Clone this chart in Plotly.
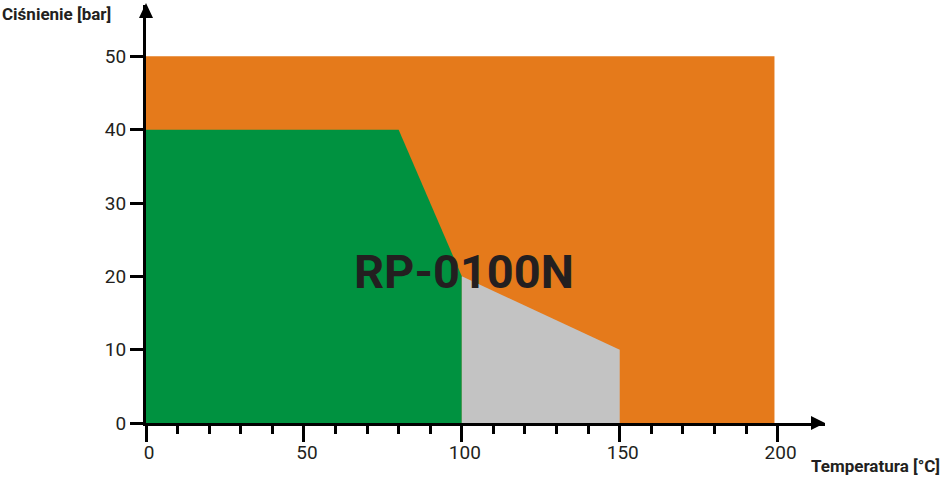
import plotly.graph_objects as go

# --- dane ---
orange_temp = [0, 199, 199, 0]
orange_press = [0, 0, 50, 50]
green_temp = [0, 0, 80, 100, 100]
green_press = [0, 40, 40, 20, 0]
grey_temp = [100, 100, 150, 150]
grey_press = [0, 20, 10, 0]

x_ticks = [0, 50, 100, 150, 200]
x_minor = [10, 20, 30, 40, 60, 70, 80, 90, 110, 120, 130, 140, 160, 170, 180, 190]
y_ticks = [0, 10, 20, 30, 40, 50]

COLORS = {
    'orange': '#E57A1B',
    'green': '#009240',
    'grey': '#C3C3C3',
    'text': '#231F20',
}
FONT = "Roboto, Liberation Sans Narrow, sans-serif"

W, H = 942, 477
ML, MR, MT, MB = 146, 117, 5, 54
X_MAX, Y_MAX = 215, 57
PW, PH = W - ML - MR, H - MT - MB


def px_x(p):
    """Piksel poziomy -> współrzędna paper."""
    return (p - ML) / PW


def px_y(p):
    """Piksel pionowy (od góry) -> współrzędna paper."""
    return (H - MB - p) / PH


fig = go.Figure()

for temp, press, col in [(orange_temp, orange_press, COLORS['orange']),
                         (green_temp, green_press, COLORS['green']),
                         (grey_temp, grey_press, COLORS['grey'])]:
    fig.add_trace(go.Scatter(
        x=temp, y=press,
        fill='toself', fillcolor=col,
        mode='lines', line=dict(width=0, color=col),
        hoverinfo='skip', showlegend=False
    ))

# strzałki osi
arrow_len, arrow_half = 14, 7
fig.add_shape(type='path', xref='paper', yref='paper',
              path=f"M {1 - arrow_len / PW},{-arrow_half / PH} L 1,0 "
                   f"L {1 - arrow_len / PW},{arrow_half / PH} Z",
              fillcolor='black', line=dict(width=0))
fig.add_shape(type='path', xref='paper', yref='paper',
              path=f"M {-arrow_half / PW},{1 - 13 / PH} L 0,{1 + 2 / PH} "
                   f"L {arrow_half / PW},{1 - 13 / PH} Z",
              fillcolor='black', line=dict(width=0))

fig.add_annotation(
    x=100.7, y=20.6, xref='x', yref='y',
    text='<b>RP-0100N</b>', showarrow=False,
    font=dict(family=FONT, size=47, color=COLORS['text'])
)
fig.add_annotation(
    x=px_x(0), y=px_y(14), xref='paper', yref='paper',
    xanchor='left', yanchor='middle',
    text='<b>Ciśnienie [bar]</b>', showarrow=False,
    font=dict(family=FONT, size=17, color=COLORS['text'])
)
fig.add_annotation(
    x=px_x(942), y=px_y(466), xref='paper', yref='paper',
    xanchor='right', yanchor='middle',
    text='<b>Temperatura [°C]</b>', showarrow=False,
    font=dict(family=FONT, size=17, color=COLORS['text'])
)

fig.update_layout(
    width=W, height=H,
    margin=dict(l=ML, r=MR, t=MT, b=MB, pad=0),
    plot_bgcolor='white',
    paper_bgcolor='white',
    showlegend=False,
    font=dict(family=FONT, size=19, color=COLORS['text']),
    xaxis=dict(
        range=[0, X_MAX], showgrid=False, zeroline=False,
        showline=True, linecolor='black', linewidth=3,
        tickmode='array', tickvals=x_ticks,
        ticks='outside', ticklen=16, tickwidth=3, tickcolor='black',
        ticklabelshift=3, ticklabelstandoff=-6,
        minor=dict(tickmode='array', tickvals=x_minor,
                   ticks='outside', ticklen=8, tickwidth=3, tickcolor='black'),
    ),
    yaxis=dict(
        range=[0, Y_MAX], showgrid=False, zeroline=False,
        showline=True, linecolor='black', linewidth=3,
        tickmode='array', tickvals=y_ticks,
        ticks='outside', ticklen=13, tickwidth=3, tickcolor='black',
    ),
)

fig.write_html("out.html", config={'displayModeBar': False},
               post_script="document.body.style.margin='0';")
